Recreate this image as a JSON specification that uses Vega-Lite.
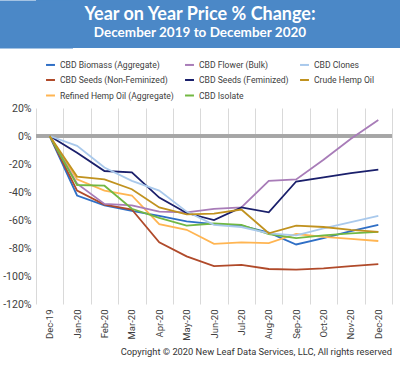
{
  "$schema": "https://vega.github.io/schema/vega-lite/v6.json",
  "padding": 0,
  "background": "white",
  "spacing": 11,
  "resolve": {"legend": {"color": "independent", "size": "independent"}},
  "config": {"view": {"stroke": null}, "font": "Roboto"},
  "vconcat": [
    {
      "width": 364,
      "height": 48,
      "view": {"fill": "#4b88c7", "stroke": null},
      "data": {"values": [
        {"kind": "title", "text": "Year on Year Price % Change:"},
        {"kind": "subtitle", "text": "December 2019 to December 2020"}
      ]},
      "mark": {"type": "text", "font": "Lato", "fontWeight": "bold", "color": "white", "baseline": "middle", "align": "center", "dx": -18},
      "encoding": {
        "y": {"field": "kind", "type": "nominal", "scale": {"type": "point", "domain": ["title", "subtitle"], "padding": 0.8},
              "axis": {"title": null, "labels": false, "ticks": false, "grid": false, "domain": true, "domainColor": "#4b88c7", "domainWidth": 73, "minExtent": 36, "maxExtent": 36, "zindex": 0}},
        "text": {"field": "text"},
        "size": {"field": "kind", "type": "ordinal", "legend": null, "scale": {"domain": ["title", "subtitle"], "range": [18, 13.5]}}
      }
    },
    {
      "width": 356,
      "height": 196,
      "title": {"text": "Copyright © 2020 New Leaf Data Services, LLC, All rights reserved", "orient": "bottom", "anchor": "end", "frame": "group", "fontSize": 9.3, "fontWeight": "normal", "color": "#333333", "offset": 8},
      "data": {"values": [
        {"series": "CBD Biomass (Aggregate)", "month": "Dec-19", "v": 0},
        {"series": "CBD Biomass (Aggregate)", "month": "Jan-20", "v": -42.5},
        {"series": "CBD Biomass (Aggregate)", "month": "Feb-20", "v": -49.5},
        {"series": "CBD Biomass (Aggregate)", "month": "Mar-20", "v": -53.5},
        {"series": "CBD Biomass (Aggregate)", "month": "Apr-20", "v": -57},
        {"series": "CBD Biomass (Aggregate)", "month": "May-20", "v": -61},
        {"series": "CBD Biomass (Aggregate)", "month": "Jun-20", "v": -63},
        {"series": "CBD Biomass (Aggregate)", "month": "Jul-20", "v": -64},
        {"series": "CBD Biomass (Aggregate)", "month": "Aug-20", "v": -69},
        {"series": "CBD Biomass (Aggregate)", "month": "Sep-20", "v": -77.5},
        {"series": "CBD Biomass (Aggregate)", "month": "Oct-20", "v": -73},
        {"series": "CBD Biomass (Aggregate)", "month": "Nov-20", "v": -68},
        {"series": "CBD Biomass (Aggregate)", "month": "Dec-20", "v": -63.5},
        {"series": "CBD Seeds (Non-Feminized)", "month": "Dec-19", "v": 0},
        {"series": "CBD Seeds (Non-Feminized)", "month": "Jan-20", "v": -39},
        {"series": "CBD Seeds (Non-Feminized)", "month": "Feb-20", "v": -49},
        {"series": "CBD Seeds (Non-Feminized)", "month": "Mar-20", "v": -52.5},
        {"series": "CBD Seeds (Non-Feminized)", "month": "Apr-20", "v": -76},
        {"series": "CBD Seeds (Non-Feminized)", "month": "May-20", "v": -86},
        {"series": "CBD Seeds (Non-Feminized)", "month": "Jun-20", "v": -93},
        {"series": "CBD Seeds (Non-Feminized)", "month": "Jul-20", "v": -92},
        {"series": "CBD Seeds (Non-Feminized)", "month": "Aug-20", "v": -95},
        {"series": "CBD Seeds (Non-Feminized)", "month": "Sep-20", "v": -95.5},
        {"series": "CBD Seeds (Non-Feminized)", "month": "Oct-20", "v": -94.5},
        {"series": "CBD Seeds (Non-Feminized)", "month": "Nov-20", "v": -93},
        {"series": "CBD Seeds (Non-Feminized)", "month": "Dec-20", "v": -91.5},
        {"series": "Refined Hemp Oil (Aggregate)", "month": "Dec-19", "v": 0},
        {"series": "Refined Hemp Oil (Aggregate)", "month": "Jan-20", "v": -31},
        {"series": "Refined Hemp Oil (Aggregate)", "month": "Feb-20", "v": -39},
        {"series": "Refined Hemp Oil (Aggregate)", "month": "Mar-20", "v": -42.5},
        {"series": "Refined Hemp Oil (Aggregate)", "month": "Apr-20", "v": -63},
        {"series": "Refined Hemp Oil (Aggregate)", "month": "May-20", "v": -67},
        {"series": "Refined Hemp Oil (Aggregate)", "month": "Jun-20", "v": -77},
        {"series": "Refined Hemp Oil (Aggregate)", "month": "Jul-20", "v": -76},
        {"series": "Refined Hemp Oil (Aggregate)", "month": "Aug-20", "v": -76.5},
        {"series": "Refined Hemp Oil (Aggregate)", "month": "Sep-20", "v": -70},
        {"series": "Refined Hemp Oil (Aggregate)", "month": "Oct-20", "v": -72},
        {"series": "Refined Hemp Oil (Aggregate)", "month": "Nov-20", "v": -73.5},
        {"series": "Refined Hemp Oil (Aggregate)", "month": "Dec-20", "v": -75},
        {"series": "CBD Flower (Bulk)", "month": "Dec-19", "v": 0},
        {"series": "CBD Flower (Bulk)", "month": "Jan-20", "v": -34},
        {"series": "CBD Flower (Bulk)", "month": "Feb-20", "v": -48.5},
        {"series": "CBD Flower (Bulk)", "month": "Mar-20", "v": -49.5},
        {"series": "CBD Flower (Bulk)", "month": "Apr-20", "v": -54},
        {"series": "CBD Flower (Bulk)", "month": "May-20", "v": -54.5},
        {"series": "CBD Flower (Bulk)", "month": "Jun-20", "v": -52},
        {"series": "CBD Flower (Bulk)", "month": "Jul-20", "v": -51},
        {"series": "CBD Flower (Bulk)", "month": "Aug-20", "v": -32},
        {"series": "CBD Flower (Bulk)", "month": "Sep-20", "v": -31},
        {"series": "CBD Flower (Bulk)", "month": "Oct-20", "v": -17},
        {"series": "CBD Flower (Bulk)", "month": "Nov-20", "v": -2},
        {"series": "CBD Flower (Bulk)", "month": "Dec-20", "v": 11.5},
        {"series": "CBD Seeds (Feminized)", "month": "Dec-19", "v": 0},
        {"series": "CBD Seeds (Feminized)", "month": "Jan-20", "v": -12},
        {"series": "CBD Seeds (Feminized)", "month": "Feb-20", "v": -25},
        {"series": "CBD Seeds (Feminized)", "month": "Mar-20", "v": -26},
        {"series": "CBD Seeds (Feminized)", "month": "Apr-20", "v": -44},
        {"series": "CBD Seeds (Feminized)", "month": "May-20", "v": -55},
        {"series": "CBD Seeds (Feminized)", "month": "Jun-20", "v": -60},
        {"series": "CBD Seeds (Feminized)", "month": "Jul-20", "v": -51},
        {"series": "CBD Seeds (Feminized)", "month": "Aug-20", "v": -54.5},
        {"series": "CBD Seeds (Feminized)", "month": "Sep-20", "v": -32.5},
        {"series": "CBD Seeds (Feminized)", "month": "Oct-20", "v": -29.5},
        {"series": "CBD Seeds (Feminized)", "month": "Nov-20", "v": -26.5},
        {"series": "CBD Seeds (Feminized)", "month": "Dec-20", "v": -24},
        {"series": "CBD Isolate", "month": "Dec-19", "v": 0},
        {"series": "CBD Isolate", "month": "Jan-20", "v": -35},
        {"series": "CBD Isolate", "month": "Feb-20", "v": -35.5},
        {"series": "CBD Isolate", "month": "Mar-20", "v": -52},
        {"series": "CBD Isolate", "month": "Apr-20", "v": -58.5},
        {"series": "CBD Isolate", "month": "May-20", "v": -64},
        {"series": "CBD Isolate", "month": "Jun-20", "v": -62.5},
        {"series": "CBD Isolate", "month": "Jul-20", "v": -63.5},
        {"series": "CBD Isolate", "month": "Aug-20", "v": -70},
        {"series": "CBD Isolate", "month": "Sep-20", "v": -73},
        {"series": "CBD Isolate", "month": "Oct-20", "v": -71},
        {"series": "CBD Isolate", "month": "Nov-20", "v": -69.5},
        {"series": "CBD Isolate", "month": "Dec-20", "v": -68.5},
        {"series": "CBD Clones", "month": "Dec-19", "v": 0},
        {"series": "CBD Clones", "month": "Jan-20", "v": -7},
        {"series": "CBD Clones", "month": "Feb-20", "v": -22.5},
        {"series": "CBD Clones", "month": "Mar-20", "v": -32},
        {"series": "CBD Clones", "month": "Apr-20", "v": -39},
        {"series": "CBD Clones", "month": "May-20", "v": -54},
        {"series": "CBD Clones", "month": "Jun-20", "v": -63.5},
        {"series": "CBD Clones", "month": "Jul-20", "v": -65},
        {"series": "CBD Clones", "month": "Aug-20", "v": -69.5},
        {"series": "CBD Clones", "month": "Sep-20", "v": -71},
        {"series": "CBD Clones", "month": "Oct-20", "v": -66},
        {"series": "CBD Clones", "month": "Nov-20", "v": -61.5},
        {"series": "CBD Clones", "month": "Dec-20", "v": -57},
        {"series": "Crude Hemp Oil", "month": "Dec-19", "v": 0},
        {"series": "Crude Hemp Oil", "month": "Jan-20", "v": -29},
        {"series": "Crude Hemp Oil", "month": "Feb-20", "v": -31},
        {"series": "Crude Hemp Oil", "month": "Mar-20", "v": -38},
        {"series": "Crude Hemp Oil", "month": "Apr-20", "v": -51},
        {"series": "Crude Hemp Oil", "month": "May-20", "v": -56},
        {"series": "Crude Hemp Oil", "month": "Jun-20", "v": -55.5},
        {"series": "Crude Hemp Oil", "month": "Jul-20", "v": -52.5},
        {"series": "Crude Hemp Oil", "month": "Aug-20", "v": -69.5},
        {"series": "Crude Hemp Oil", "month": "Sep-20", "v": -64},
        {"series": "Crude Hemp Oil", "month": "Oct-20", "v": -65},
        {"series": "Crude Hemp Oil", "month": "Nov-20", "v": -67},
        {"series": "Crude Hemp Oil", "month": "Dec-20", "v": -68.5}
      ]},
      "layer": [
        {
          "mark": {"type": "rule", "color": "#a6a6a6", "strokeWidth": 2.5},
          "encoding": {
            "y": {
              "datum": 0, "type": "quantitative",
              "scale": {"domain": [-120, 20], "nice": false},
              "axis": {"title": null, "values": [-120, -100, -80, -60, -40, -20, 0, 20], "tickCount": 8, "labelExpr": "datum.value + '%'", "labelOverlap": false, "domain": false, "ticks": false, "gridColor": "#d9d9d9", "labelFontSize": 10.5, "labelColor": "#404040", "labelPadding": 5, "minExtent": 36}
            }
          }
        },
        {
          "mark": {"type": "line", "strokeWidth": 1.8},
          "encoding": {
            "x": {
              "field": "month", "type": "ordinal",
              "sort": ["Dec-19", "Jan-20", "Feb-20", "Mar-20", "Apr-20", "May-20", "Jun-20", "Jul-20", "Aug-20", "Sep-20", "Oct-20", "Nov-20", "Dec-20"],
              "bandPosition": 0.5,
              "scale": {"type": "band", "paddingInner": 0, "paddingOuter": 0},
              "axis": {"title": null, "labelAngle": -90, "tickBand": "extent", "domain": false, "ticks": false, "grid": true, "gridColor": "#d9d9d9", "labelFontSize": 9.5, "labelColor": "#404040", "labelPadding": 5, "labelOverlap": false}
            },
            "y": {
              "field": "v", "type": "quantitative",
              "scale": {"domain": [-120, 20], "nice": false},
              "axis": {"title": null, "values": [-120, -100, -80, -60, -40, -20, 0, 20], "tickCount": 8, "labelExpr": "datum.value + '%'", "labelOverlap": false, "domain": false, "ticks": false, "gridColor": "#d9d9d9", "labelFontSize": 10.5, "labelColor": "#404040", "labelPadding": 5, "minExtent": 36}
            },
            "color": {
              "field": "series", "type": "nominal",
              "scale": {
                "domain": ["CBD Biomass (Aggregate)", "CBD Seeds (Non-Feminized)", "Refined Hemp Oil (Aggregate)", "CBD Flower (Bulk)", "CBD Seeds (Feminized)", "CBD Isolate", "CBD Clones", "Crude Hemp Oil"],
                "range": ["#2f6fc6", "#b04a2a", "#ffb552", "#a87cb8", "#1a1f6b", "#72b843", "#a9c9ec", "#c0921f"]
              },
              "legend": {"orient": "none", "legendX": 9, "legendY": -49, "columns": 3, "title": null, "symbolType": "stroke", "symbolStrokeWidth": 2, "symbolSize": 80, "labelFontSize": 8.6, "labelColor": "#404040", "columnPadding": 7, "rowPadding": 4.5}
            }
          }
        }
      ]
    }
  ]
}
